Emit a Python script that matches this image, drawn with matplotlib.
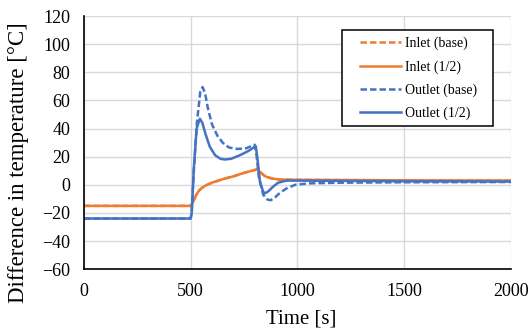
import matplotlib
matplotlib.use("Agg")
import matplotlib.pyplot as plt
from matplotlib.patches import Rectangle

plt.rcParams['font.family'] = ['Liberation Serif', 'DejaVu Serif']

ORANGE = "#ED7D31"
BLUE = "#4472C4"

# Inlet temperature difference [°C]
t_in = [0, 500, 505, 515, 525, 540, 555, 570, 600, 650, 700, 750, 800, 810, 825, 850, 880, 920, 1000, 1500, 2000]
inlet_base = [-15, -15, -14, -11, -7.5, -4, -2, -0.5, 1.5, 4, 6, 8.5, 10.5, 11, 9, 6, 4.5, 3.7, 3.5, 3.2, 3]
inlet_half = [-15, -15, -14, -11, -7.5, -4, -2, -0.5, 1.5, 4, 6, 8.5, 10.5, 11, 9, 6, 4.5, 3.7, 3.5, 3.2, 3]

# Outlet temperature difference [°C]
t_out_b = [0, 500, 505, 515, 530, 545, 556, 568, 580, 600, 625, 650, 680, 720, 760, 800, 808, 820, 840, 860, 875, 895, 920, 950, 990, 1050, 1200, 1500, 2000]
outlet_base = [-24, -24, -20, 10, 45, 66, 69.5, 65, 55, 43, 35, 30, 26.5, 25.5, 26, 28.5, 22, 5, -7, -10.5, -11, -9, -5.5, -2.5, 0, 1, 1.5, 1.8, 2]
t_out_h = [0, 500, 505, 515, 528, 543, 555, 570, 590, 615, 640, 660, 690, 730, 770, 805, 812, 825, 840, 850, 865, 885, 910, 950, 1000, 1500, 2000]
outlet_half = [-24, -24, -20, 12, 40, 47, 44, 36, 27, 21, 18.5, 18, 18.5, 21, 24, 27.5, 20, 2, -5, -6, -4.5, -1.5, 1.5, 3, 3, 2.5, 2.3]

DASH = (0, (2.6, 1.2))

fig = plt.figure(figsize=(5.31, 3.36), dpi=100)
ax = fig.add_axes([0.158, 0.199, 0.804, 0.753])

ax.plot(t_in, inlet_base, color=ORANGE, lw=1.8, ls=DASH, label="Inlet (base)")
ax.plot(t_in, inlet_half, color=ORANGE, lw=1.8, label="Inlet (1/2)")
ax.plot(t_out_b, outlet_base, color=BLUE, lw=1.8, ls=DASH, label="Outlet (base)")
ax.plot(t_out_h, outlet_half, color=BLUE, lw=1.8, label="Outlet (1/2)")

ax.set_xlim(0, 2000)
ax.set_ylim(-60, 120)
ax.set_xticks(range(0, 2001, 500))
ax.set_yticks(range(-60, 121, 20))
ax.grid(True, color="#d9d9d9", lw=1)
ax.set_axisbelow(True)
for s in ["top", "right"]:
    ax.spines[s].set_visible(False)
for s in ["left", "bottom"]:
    ax.spines[s].set_linewidth(1.2)
ax.tick_params(length=0, labelsize=13, pad=10)

ax.set_xlabel("Time [s]", fontsize=15)
ax.xaxis.set_label_coords(0.51, -0.16)
ax.set_ylabel("Difference in temperature [°C]", fontsize=16.5)
ax.yaxis.set_label_coords(-0.128, 0.42)

# legend box drawn by hand so the side padding can be wider than top/bottom
ax.add_patch(Rectangle((0.604, 0.565), 0.354, 0.38, transform=ax.transAxes,
                       facecolor="white", edgecolor="black", lw=1.1, zorder=4))
leg = ax.legend(loc="upper left", bbox_to_anchor=(0.646, 0.918), fontsize=10,
                frameon=False, handlelength=2.95, handletextpad=0.3,
                labelspacing=0.7, borderpad=0, borderaxespad=0)
leg.set_zorder(5)

fig.savefig("out.png", dpi=100)
